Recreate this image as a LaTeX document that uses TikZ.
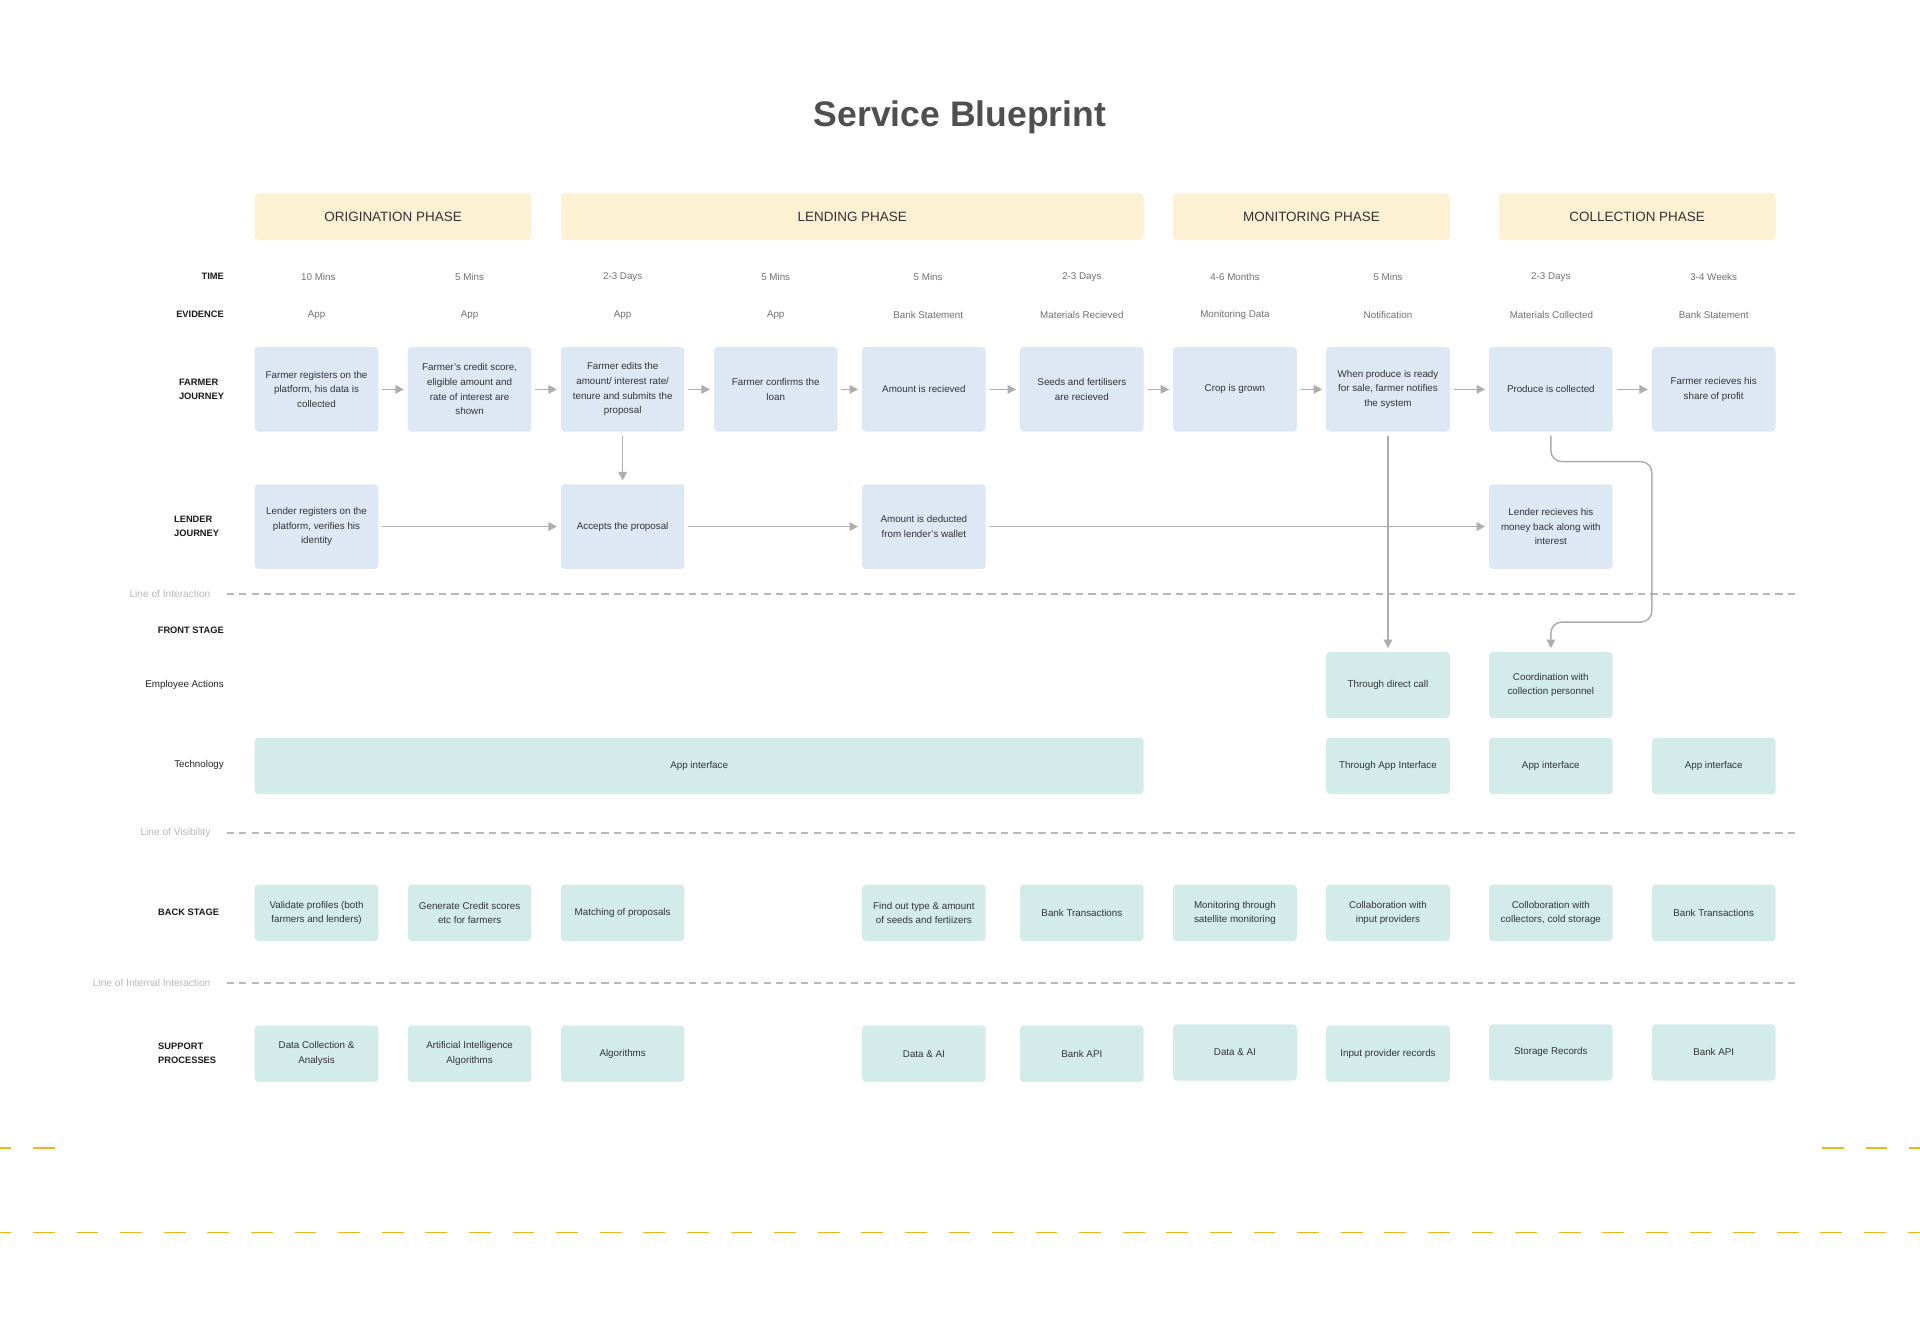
\documentclass[tikz,border=0pt]{standalone}
\usepackage{fontspec}
\setmainfont{Liberation Sans}
\usetikzlibrary{arrows.meta,calc}
\definecolor{phasefill}{HTML}{FDF1D4}
\definecolor{jblue}{HTML}{DDE8F4}
\definecolor{mint}{HTML}{D3ECEA}
\definecolor{txt}{HTML}{333333}
\definecolor{gtxt}{HTML}{707070}
\definecolor{ltxt}{HTML}{B8B8B8}
\definecolor{arrc}{HTML}{ADADAD}
\definecolor{sepc}{HTML}{B8B8B8}
\definecolor{ydash}{HTML}{F2B418}
\definecolor{titc}{HTML}{4F4F4F}
\tikzset{
  jbox/.style={rectangle, rounded corners=3pt, fill=jblue, minimum width=101pt, minimum height=69pt, inner sep=0pt, align=center, text=txt, font=\fontsize{8}{12}\selectfont},
  tbox/.style={jbox, fill=mint, minimum height=46pt},
  ebox/.style={jbox, fill=mint, minimum height=54pt},
  phasebox/.style={rectangle, rounded corners=3pt, fill=phasefill, minimum height=38pt, inner sep=0pt, text=txt, font=\fontsize{11}{13}\selectfont},
  rowlab/.style={font=\bfseries\fontsize{7.6}{11.5}\selectfont, text=black!90, align=left, inner sep=0pt},
  rowlabr/.style={font=\fontsize{8}{11}\selectfont, text=black!85, inner sep=0pt, anchor=east},
  meta/.style={font=\fontsize{8}{10}\selectfont, text=gtxt, inner sep=0pt},
  linelab/.style={font=\fontsize{8.3}{10}\selectfont, text=ltxt, inner sep=0pt, anchor=east},
  arr/.style={draw=arrc, line width=1.2pt, -{Triangle[length=7pt,width=7pt]}, shorten <=3pt, shorten >=3pt},
  sepline/.style={draw=sepc, line width=1.3pt, dash pattern=on 6pt off 4.2pt},
  ydl/.style={draw=ydash, line width=1.4pt, dash pattern=on 17.8pt off 17.8pt}
}
\begin{document}
\begin{tikzpicture}[x=1pt,y=-1pt]
\useasboundingbox[fill=white] (0,0) rectangle (1568,1089.4);

% title
\node[font=\bfseries\fontsize{29}{32}\selectfont, text=titc] (title) at (784,96) {Service Blueprint};

% phases
\node[phasebox, minimum width=226pt] (ph1) at (321,177) {ORIGINATION PHASE};
\node[phasebox, minimum width=476pt] (ph2) at (696,177) {LENDING PHASE};
\node[phasebox, minimum width=226pt] (ph3) at (1071,177) {MONITORING PHASE};
\node[phasebox, minimum width=226pt] (ph4) at (1337,177) {COLLECTION PHASE};

% row labels
\node[rowlab, anchor=east] (rTime) at (183,226) {TIME};
\node[rowlab, anchor=east] (rEv) at (183,257) {EVIDENCE};
\node[rowlab, anchor=west] (rFarm) at (146,318) {FARMER\\JOURNEY};
\node[rowlab, anchor=west] (rLend) at (142,430) {LENDER\\JOURNEY};
\node[rowlab, anchor=east] (rFront) at (183,515) {FRONT STAGE};
\node[rowlabr] (rEmp) at (183,559) {Employee Actions};
\node[rowlabr] (rTech) at (183,625) {Technology};
\node[rowlab, anchor=west] (rBack) at (129,745) {BACK STAGE};
\node[rowlab, anchor=west] (rSup) at (129,860) {SUPPORT\\PROCESSES};

% time row
\node[meta] (t1) at (260,226) {10 Mins};
\node[meta] (t2) at (383.5,226) {5 Mins};
\node[meta] (t3) at (508.5,226) {2-3 Days};
\node[meta] (t4) at (633.5,226) {5 Mins};
\node[meta] (t5) at (758,226) {5 Mins};
\node[meta] (t6) at (883.5,226) {2-3 Days};
\node[meta] (t7) at (1008.5,226) {4-6 Months};
\node[meta] (t8) at (1133.5,226) {5 Mins};
\node[meta] (t9) at (1266.5,226) {2-3 Days};
\node[meta] (t10) at (1399.5,226) {3-4 Weeks};

% evidence row
\node[meta] (v1) at (258.5,257) {App};
\node[meta] (v2) at (383.5,257) {App};
\node[meta] (v3) at (508.5,257) {App};
\node[meta] (v4) at (633.5,257) {App};
\node[meta] (v5) at (758,257) {Bank Statement};
\node[meta] (v6) at (883.5,257) {Materials Recieved};
\node[meta] (v7) at (1008.5,257) {Monitoring Data};
\node[meta] (v8) at (1133.5,257) {Notification};
\node[meta] (v9) at (1267,257) {Materials Collected};
\node[meta] (v10) at (1399.5,257) {Bank Statement};

% farmer journey
\node[jbox] (f1) at (258.5,318) {Farmer registers on the\\platform, his data is\\collected};
\node[jbox] (f2) at (383.5,318) {Farmer’s credit score,\\eligible amount and\\rate of interest are\\shown};
\node[jbox] (f3) at (508.5,318) {Farmer edits the\\amount/ interest rate/\\tenure and submits the\\proposal};
\node[jbox] (f4) at (633.5,318) {Farmer confirms the\\loan};
\node[jbox] (f5) at (754.5,318) {Amount is recieved};
\node[jbox] (f6) at (883.5,318) {Seeds and fertilisers\\are recieved};
\node[jbox] (f7) at (1008.5,318) {Crop is grown};
\node[jbox] (f8) at (1133.5,318) {When produce is ready\\for sale, farmer notifies\\the system};
\node[jbox] (f9) at (1266.5,318) {Produce is collected};
\node[jbox] (f10) at (1399.5,318) {Farmer recieves his\\share of profit};

% lender journey
\node[jbox] (l1) at (258.5,430) {Lender registers on the\\platform, verifies his\\identity};
\node[jbox] (l3) at (508.5,430) {Accepts the proposal};
\node[jbox] (l5) at (754.5,430) {Amount is deducted\\from lender’s wallet};
\node[jbox] (l9) at (1266.5,430) {Lender recieves his\\money back along with\\interest};

% lines
\node[linelab] (lab1) at (172,485) {Line of Interaction};
\node[linelab] (lab2) at (172,680.5) {Line of Visibility};
\node[linelab] (lab3) at (172,803) {Line of Internal Interaction};
\coordinate (s1a) at (185,485); \coordinate (s1b) at (1467,485);
\coordinate (s2a) at (185,680.5); \coordinate (s2b) at (1467,680.5);
\coordinate (s3a) at (185,803); \coordinate (s3b) at (1467,803);
\draw[sepline] (s1a) -- (s1b);
\draw[sepline] (s2a) -- (s2b);
\draw[sepline] (s3a) -- (s3b);

% employee actions
\node[ebox] (e8) at (1133.5,559.5) {Through direct call};
\node[ebox] (e9) at (1266.5,559.5) {Coordination with\\collection personnel};

% technology
\node[tbox, minimum width=726pt] (te1) at (571,625.5) {App interface};
\node[tbox] (te8) at (1133.5,625.5) {Through App Interface};
\node[tbox] (te9) at (1266.5,625.5) {App interface};
\node[tbox] (te10) at (1399.5,625.5) {App interface};

% back stage
\node[tbox] (b1) at (258.5,745.5) {Validate profiles (both\\farmers and lenders)};
\node[tbox] (b2) at (383.5,745.5) {Generate Credit scores\\etc for farmers};
\node[tbox] (b3) at (508.5,745.5) {Matching of proposals};
\node[tbox] (b5) at (754.5,745.5) {Find out type \& amount\\of seeds and fertiizers};
\node[tbox] (b6) at (883.5,745.5) {Bank Transactions};
\node[tbox] (b7) at (1008.5,745.5) {Monitoring through\\satellite monitoring};
\node[tbox] (b8) at (1133.5,745.5) {Collaboration with\\input providers};
\node[tbox] (b9) at (1266.5,745.5) {Colloboration with\\collectors, cold storage};
\node[tbox] (b10) at (1399.5,745.5) {Bank Transactions};

% support processes
\node[tbox] (p1) at (258.5,860.5) {Data Collection \&\\Analysis};
\node[tbox] (p2) at (383.5,860.5) {Artificial Intelligence\\Algorithms};
\node[tbox] (p3) at (508.5,860.5) {Algorithms};
\node[tbox] (p5) at (754.5,860.5) {Data \& AI};
\node[tbox] (p6) at (883.5,860.5) {Bank API};
\node[tbox] (p7) at (1008.5,859.5) {Data \& AI};
\node[tbox] (p8) at (1133.5,860.5) {Input provider records};
\node[tbox] (p9) at (1266.5,859.5) {Storage Records};
\node[tbox] (p10) at (1399.5,859.5) {Bank API};

% farmer arrows
\draw[arr] (f1) -- (f2);
\draw[arr] (f2) -- (f3);
\draw[arr] (f3) -- (f4);
\draw[arr] (f4) -- (f5);
\draw[arr] (f5) -- (f6);
\draw[arr] (f6) -- (f7);
\draw[arr] (f7) -- (f8);
\draw[arr] (f8) -- (f9);
\draw[arr] (f9) -- (f10);

% lender arrows
\draw[arr] (l1) -- (l3);
\draw[arr] (l3) -- (l5);
\draw[arr] (l5) -- (l9);
\draw[arr] (f3) -- (l3);

% vertical links
\draw[arr] (f8.south) -- (e8.north);
\coordinate (k1) at (1349,377);
\coordinate (k2) at (1349,508);
\draw[arr, rounded corners=9pt] (f9.south) |- (k1) -- (k2) -| (e9.north);

% yellow dashes
\coordinate (y1a) at (0,1006.5); \coordinate (y1b) at (1568,1006.5);
\coordinate (y2a) at (0,937.5); \coordinate (y2b) at (45,937.5);
\coordinate (y3a) at (1488,937.5); \coordinate (y3b) at (1568,937.5);
\draw[ydl, dash phase=8.6pt] (y1a) -- (y1b);
\draw[ydl, dash phase=8.6pt] (y2a) -- (y2b);
\draw[ydl] (y3a) -- (y3b);
\end{tikzpicture}
\end{document}
